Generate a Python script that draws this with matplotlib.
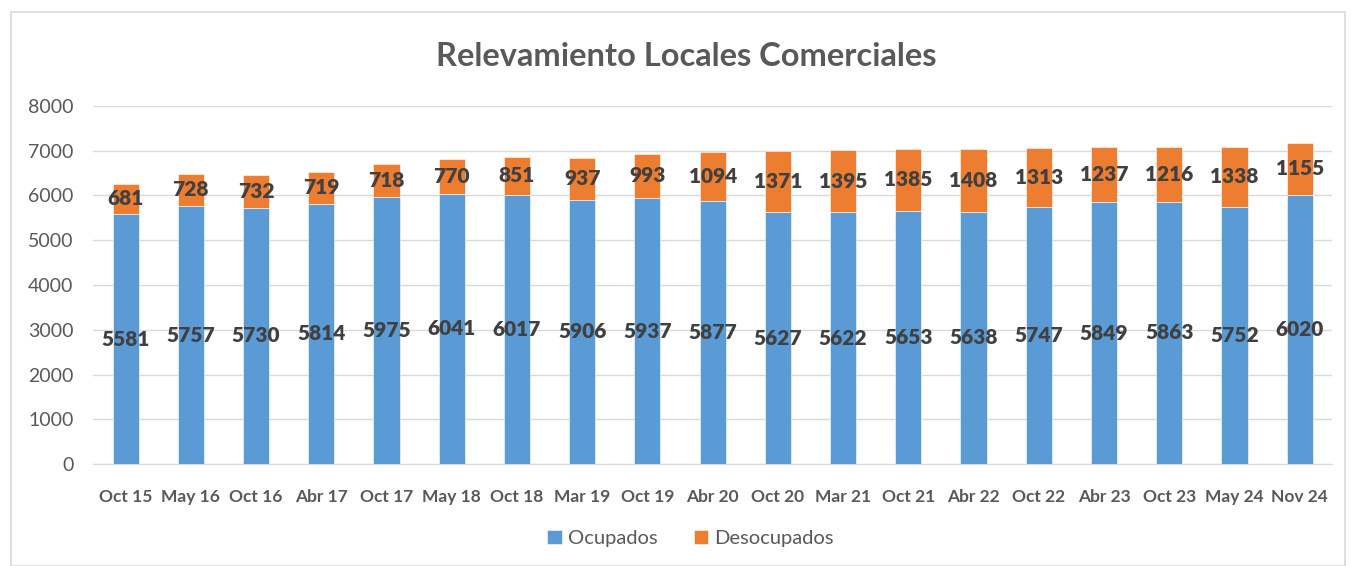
import matplotlib.pyplot as plt
import numpy as np
from matplotlib.patches import Rectangle

# Data
periods = ["Oct 15", "May 16", "Oct 16", "Abr 17", "Oct 17", "May 18", "Oct 18", "Mar 19",
           "Oct 19", "Abr 20", "Oct 20", "Mar 21", "Oct 21", "Abr 22", "Oct 22", "Abr 23",
           "Oct 23", "May 24", "Nov 24"]
ocupados = [5581, 5757, 5730, 5814, 5975, 6041, 6017, 5906, 5937, 5877,
            5627, 5622, 5653, 5638, 5747, 5849, 5863, 5752, 6020]
desocupados = [681, 728, 732, 719, 718, 770, 851, 937, 993, 1094,
               1371, 1395, 1385, 1408, 1313, 1237, 1216, 1338, 1155]

BLUE = "#5B9BD5"
ORANGE = "#ED7D31"
FONT = ["Lato", "DejaVu Sans"]
plt.rcParams['font.family'] = FONT

fig = plt.figure(figsize=(13.53, 5.66), dpi=100)
ax = fig.add_axes([0.0687, 0.180, 0.916, 0.633])

x = np.arange(len(periods))
width = 0.4
ax.bar(x, ocupados, width, color=BLUE, edgecolor="white", linewidth=0.4,
       label="Ocupados", zorder=3)
ax.bar(x, desocupados, width, bottom=ocupados, color=ORANGE, edgecolor="white",
       linewidth=0.4, label="Desocupados", zorder=3)

# centered data labels
for i in range(len(periods)):
    ax.text(x[i], ocupados[i] / 2, str(ocupados[i]), ha="center", va="center",
            fontsize=15, fontweight="heavy", color="#404040", zorder=4)
    ax.text(x[i], ocupados[i] + desocupados[i] / 2, str(desocupados[i]), ha="center",
            va="center", fontsize=15, fontweight="heavy", color="#404040", zorder=4)

ax.set_xlim(-0.5, len(periods) - 0.5)
ax.set_ylim(0, 8000)
ax.set_yticks(np.arange(0, 8001, 1000))
ax.set_xticks(x)
ax.set_xticklabels(periods, fontsize=12.5, fontweight="bold", color="#595959")
ax.tick_params(axis="y", labelsize=14, colors="#595959", length=0, pad=14)
ax.tick_params(axis="x", length=0, pad=18)
ax.grid(axis="y", color="#D9D9D9", linewidth=1, zorder=0)
for s in ["top", "right", "left"]:
    ax.spines[s].set_visible(False)
ax.spines["bottom"].set_color("#D9D9D9")

fig.suptitle("Relevamiento Locales Comerciales", x=0.507, y=0.925, fontsize=23.5,
             fontweight="bold", color="#595959")

ax.legend(loc="center", bbox_to_anchor=(0.482, -0.208), ncol=2, frameon=False,
          fontsize=14.5, labelcolor="#595959", handlelength=0.7, handleheight=0.7,
          handletextpad=0.3, columnspacing=1.8)

fig.patches.append(Rectangle((0.008, 0.0), 0.986, 0.978, transform=fig.transFigure,
                             fill=False, edgecolor="#D9D9D9", linewidth=1.2))

fig.savefig("out.png", dpi=100)
